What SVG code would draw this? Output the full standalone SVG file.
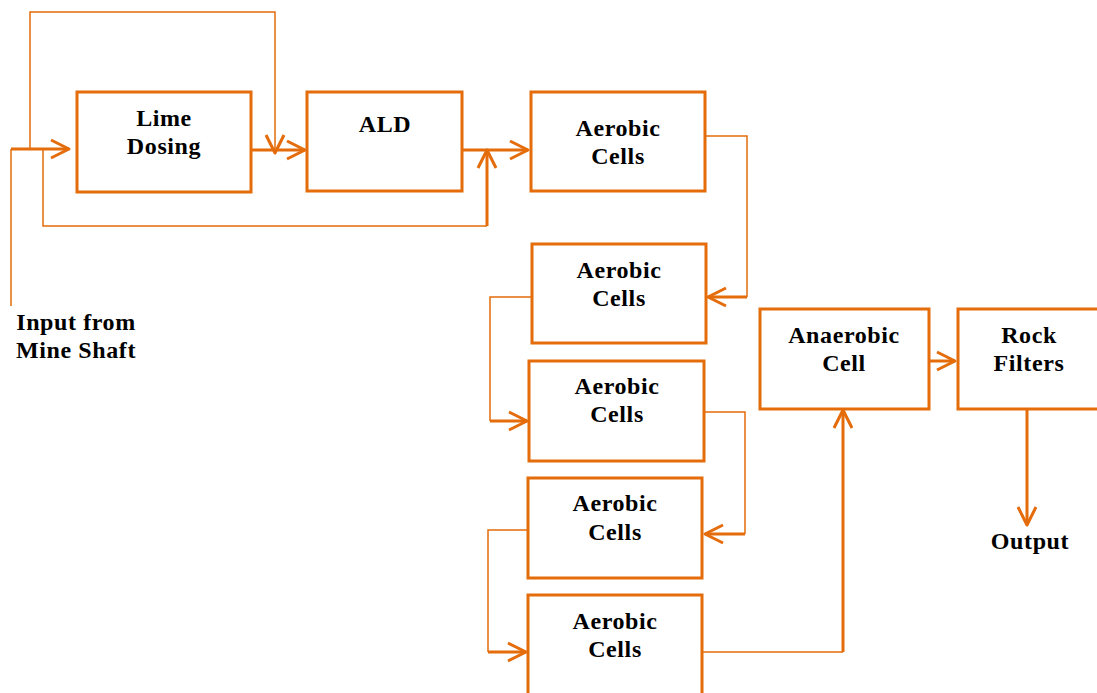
<svg xmlns="http://www.w3.org/2000/svg" width="1097" height="693" viewBox="0 0 1097 693">
<style>
.box{fill:#fff;stroke:#E46C0A;stroke-width:3}
.lbl{font-family:"Liberation Serif","DejaVu Serif",serif;font-weight:bold;font-size:24px;letter-spacing:0.6px;fill:#000;text-anchor:middle}
.thick{fill:none;stroke:#E46C0A;stroke-width:3}
.thin{fill:none;stroke:#E46C0A;stroke-width:1.5}
</style>
<defs>
<marker id="arr" markerUnits="userSpaceOnUse" markerWidth="24" markerHeight="24" viewBox="-2 -2 24 24" refX="18" refY="9" orient="auto" overflow="visible">
<path d="M0,0 L18,9 L0,18" fill="none" stroke="#E46C0A" stroke-width="3" stroke-linejoin="round"/>
</marker>
</defs>
<rect width="1097" height="693" fill="#fff"/>
<g id="connectors">
<path class="thin" d="M11,306 V149"/>
<path class="thick" d="M11,149 H69" marker-end="url(#arr)"/>
<path class="thin" d="M30,149 V12 H275 V153" marker-end="url(#arr)"/>
<path class="thin" d="M43,149 V226 H487"/>
<path class="thick" d="M487,226 V150" marker-end="url(#arr)"/>
<path class="thick" d="M252,150 H305" marker-end="url(#arr)"/>
<path class="thick" d="M462,150 H528" marker-end="url(#arr)"/>
<path class="thin" d="M705,136 H747 V297"/>
<path class="thick" d="M747,297 H708" marker-end="url(#arr)"/>
<path class="thin" d="M532,297 H490 V421"/>
<path class="thick" d="M490,421 H527" marker-end="url(#arr)"/>
<path class="thin" d="M704,412 H745 V534"/>
<path class="thick" d="M745,534 H705" marker-end="url(#arr)"/>
<path class="thin" d="M528,530 H488 V652"/>
<path class="thick" d="M488,652 H526" marker-end="url(#arr)"/>
<path class="thin" d="M702,652 H843"/>
<path class="thick" d="M843,652 V410" marker-end="url(#arr)"/>
<path class="thick" d="M929,361 H955" marker-end="url(#arr)"/>
<path class="thick" d="M1027,409 V525" marker-end="url(#arr)"/>
</g>
<g id="lime">
<rect class="box" x="77" y="92" width="174" height="100"/>
<text class="lbl" x="164" y="126">Lime</text>
<text class="lbl" x="164" y="154">Dosing</text>
</g>
<g id="ald">
<rect class="box" x="307" y="92" width="155" height="99"/>
<text class="lbl" x="385" y="132">ALD</text>
</g>
<g id="aerobic1">
<rect class="box" x="531" y="92" width="174" height="99"/>
<text class="lbl" x="618" y="136">Aerobic</text>
<text class="lbl" x="618" y="164">Cells</text>
</g>
<g id="aerobic2">
<rect class="box" x="532" y="244" width="174" height="99"/>
<text class="lbl" x="619" y="278">Aerobic</text>
<text class="lbl" x="619" y="306">Cells</text>
</g>
<g id="aerobic3">
<rect class="box" x="529" y="361" width="175" height="100"/>
<text class="lbl" x="617" y="394">Aerobic</text>
<text class="lbl" x="617" y="422">Cells</text>
</g>
<g id="aerobic4">
<rect class="box" x="528" y="478" width="174" height="100"/>
<text class="lbl" x="615" y="511">Aerobic</text>
<text class="lbl" x="615" y="540">Cells</text>
</g>
<g id="aerobic5">
<rect class="box" x="528" y="595" width="174" height="110"/>
<text class="lbl" x="615" y="629">Aerobic</text>
<text class="lbl" x="615" y="657">Cells</text>
</g>
<g id="anaerobic">
<rect class="box" x="760" y="309" width="169" height="100"/>
<text class="lbl" x="844" y="343">Anaerobic</text>
<text class="lbl" x="844" y="371">Cell</text>
</g>
<g id="rock">
<rect class="box" x="958" y="309" width="150" height="100"/>
<text class="lbl" x="1029" y="343">Rock</text>
<text class="lbl" x="1029" y="371">Filters</text>
</g>
<g id="output">
<text class="lbl" x="1030" y="549">Output</text>
</g>
<g id="input">
<text class="lbl" x="76" y="330">Input from</text>
<text class="lbl" x="76" y="358">Mine Shaft</text>
</g>
</svg>
